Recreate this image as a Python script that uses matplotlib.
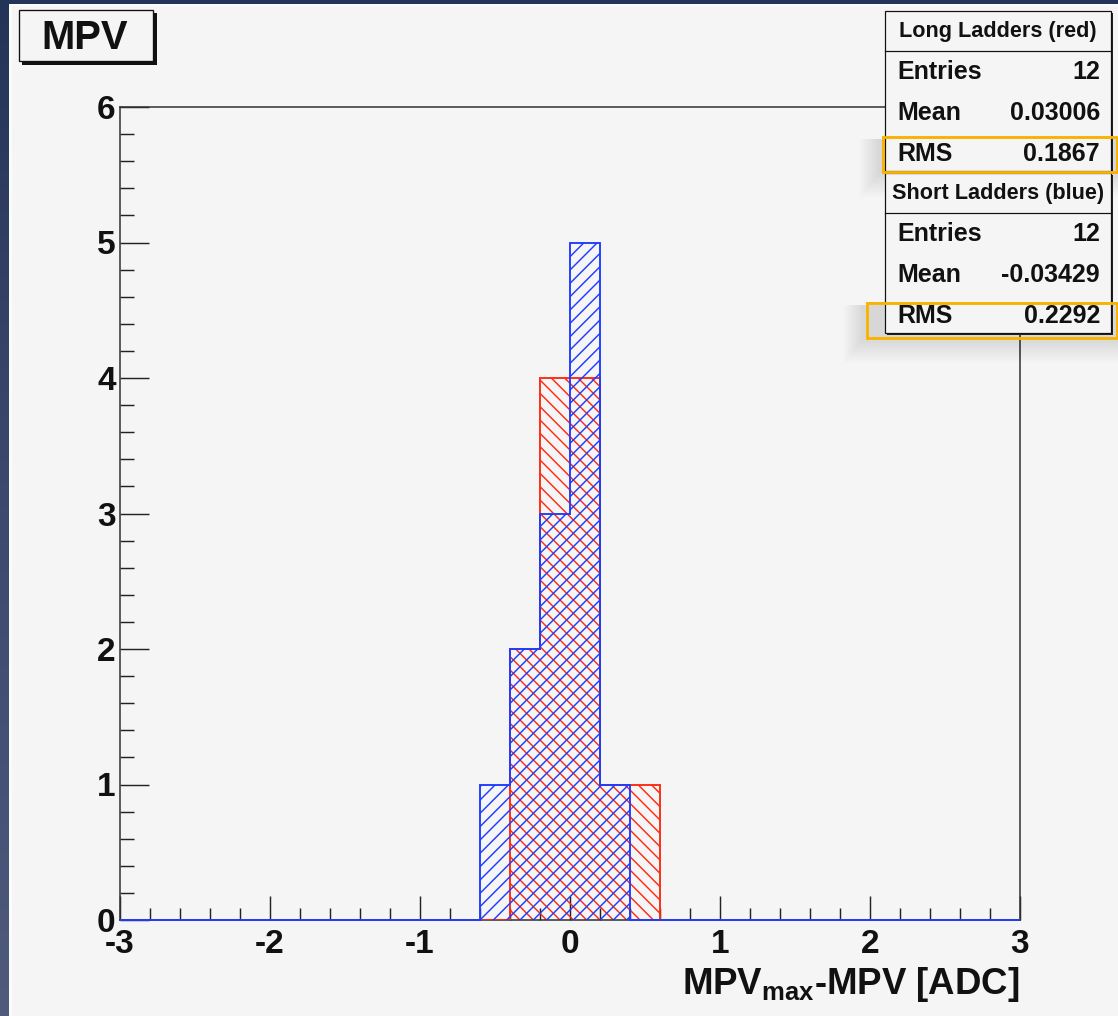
import numpy as np
import matplotlib
matplotlib.use("Agg")
import matplotlib.pyplot as plt
from matplotlib.patches import Rectangle
from matplotlib.ticker import MultipleLocator
from matplotlib.colors import LinearSegmentedColormap

W, H, DPI = 1118, 1016, 80

plt.rcParams['font.family'] = ['Liberation Sans', 'DejaVu Sans']
plt.rcParams['font.weight'] = 'bold'
plt.rcParams['axes.unicode_minus'] = False
plt.rcParams['mathtext.fontset'] = 'custom'
plt.rcParams['mathtext.rm'] = 'Liberation Sans:bold'
plt.rcParams['mathtext.bf'] = 'Liberation Sans:bold'
plt.rcParams['mathtext.it'] = 'Liberation Sans:bold'
plt.rcParams['hatch.linewidth'] = 1.3

# 30 bins of width 0.2 between -3 and 3
bin_edges = np.linspace(-3.0, 3.0, 31)
red_counts = [0, 0, 0, 0, 0, 0, 0, 0, 0, 0, 0, 0, 0, 2, 4,
              4, 1, 1, 0, 0, 0, 0, 0, 0, 0, 0, 0, 0, 0, 0]
blue_counts = [0, 0, 0, 0, 0, 0, 0, 0, 0, 0, 0, 0, 1, 2, 3,
               5, 1, 0, 0, 0, 0, 0, 0, 0, 0, 0, 0, 0, 0, 0]

long_title = "Long Ladders (red)"
long_stats = [("Entries", "12"), ("Mean", "0.03006"), ("RMS", "0.1867")]
short_title = "Short Ladders (blue)"
short_stats = [("Entries", "12"), ("Mean", "-0.03429"), ("RMS", "0.2292")]

RED = '#ff2a12'
BLUE = '#1e3cff'
ORANGE = '#f9b200'
PAPER = '#f5f5f5'
INK = '#111111'


def fx(x):
    return x / W


def fy(y):
    return 1 - y / H


def rect(x0, y0, x1, y1, **kw):
    r = Rectangle((fx(x0), fy(y1)), (x1 - x0) / W, (y1 - y0) / H,
                  transform=fig.transFigure, **kw)
    fig.add_artist(r)
    return r


fig = plt.figure(figsize=(W / DPI, H / DPI), dpi=DPI)

# navy gradient background + light canvas
bg = fig.add_axes([0, 0, 1, 1], zorder=-10)
grad = np.linspace(0, 1, 256).reshape(-1, 1)
navy = LinearSegmentedColormap.from_list('navy', ['#243458', '#3c4a6e', '#4f5a7c'])
bg.imshow(grad, aspect='auto', cmap=navy, extent=[0, 1, 0, 1])
bg.set_axis_off()
rect(9, 4, W + 5, H + 5, facecolor='#fbfbfb', edgecolor='none', zorder=-5)
rect(12, 6, W + 5, H + 5, facecolor=PAPER, edgecolor='none', zorder=-4)

ax = fig.add_axes([fx(120), fy(920), (1020 - 120) / W, (920 - 107) / H])
ax.set_facecolor(PAPER)

ax.stairs(red_counts, bin_edges, fill=True, facecolor='none', edgecolor=RED,
          hatch='\\\\', linewidth=0, zorder=2)
ax.stairs(red_counts, bin_edges, baseline=0, color=RED, linewidth=1.7, zorder=3)
ax.stairs(blue_counts, bin_edges, fill=True, facecolor='none', edgecolor=BLUE,
          hatch='//', linewidth=0, zorder=4)
ax.stairs(blue_counts, bin_edges, baseline=0, color=BLUE, linewidth=1.7, zorder=5,
          clip_on=False)

ax.set_xlim(-3, 3)
ax.set_ylim(0, 6)
ax.xaxis.set_major_locator(MultipleLocator(1))
ax.xaxis.set_minor_locator(MultipleLocator(0.2))
ax.yaxis.set_major_locator(MultipleLocator(1))
ax.yaxis.set_minor_locator(MultipleLocator(0.2))

for s in ax.spines.values():
    s.set_color('#333333')
    s.set_linewidth(1.4)

ax.tick_params(axis='both', which='both', direction='in', colors='#222222', width=1.3)
ax.tick_params(axis='y', which='major', length=26, pad=4, labelsize=30)
ax.tick_params(axis='y', which='minor', length=13)
ax.tick_params(axis='x', which='major', length=22, pad=8, labelsize=30)
ax.tick_params(axis='x', which='minor', length=11)
for lab in ax.get_xticklabels() + ax.get_yticklabels():
    lab.set_fontweight('bold')
    lab.set_color(INK)

ax.set_xlabel(r'$\mathbf{MPV_{max}}$-MPV [ADC]', loc='right', fontsize=33,
              fontweight='bold', color=INK, labelpad=5)

# title box
rect(22, 13, 157, 65, facecolor='#111111', edgecolor='none', zorder=10)
rect(19, 10, 153, 61, facecolor=PAPER, edgecolor='#111111', linewidth=1.2, zorder=11)
fig.text(fx(85), fy(38), "MPV", ha='center', va='center', fontsize=36,
         fontweight='bold', color=INK, zorder=12)

# soft shadows around the highlighted rows
for k in range(10):
    a = 0.012
    rect(878 - 2 * k, 139, 1118, 174 + 2.5 * k, facecolor='#000000', alpha=a,
         edgecolor='none', zorder=12)
    rect(862 - 2 * k, 305, 1118, 340 + 2.5 * k, facecolor='#000000', alpha=a,
         edgecolor='none', zorder=12)


def stats_box(y_top, title, rows):
    rect(887, y_top + 2, 1113, y_top + 162, facecolor='#222222', edgecolor='none', zorder=13)
    rect(885, y_top, 1111, y_top + 160, facecolor=PAPER, edgecolor='#111111',
         linewidth=1.1, zorder=14)
    line_y = fy(y_top + 40)
    fig.add_artist(plt.Line2D([fx(885), fx(1111)], [line_y, line_y],
                              transform=fig.transFigure, color='#111111', lw=1.1, zorder=15))
    fig.text(fx(998), fy(y_top + 20), title, ha='center', va='center', fontsize=19.5,
             fontweight='bold', color=INK, zorder=16)
    for i, (name, val) in enumerate(rows):
        yy = fy(y_top + 61 + 41 * i)
        fig.text(fx(897), yy, name, ha='left', va='center', fontsize=22.5,
                 fontweight='bold', color=INK, zorder=16)
        fig.text(fx(1100), yy, val, ha='right', va='center', fontsize=22.5,
                 fontweight='bold', color=INK, zorder=16)


stats_box(11, long_title, long_stats)
stats_box(173, short_title, short_stats)

# orange highlight frames
rect(883, 137, 1117, 172, facecolor='none', edgecolor=ORANGE, linewidth=2.6, zorder=20)
rect(867, 303, 1117, 338, facecolor='none', edgecolor=ORANGE, linewidth=2.6, zorder=20)

fig.savefig('out.png', dpi=DPI, facecolor='#2a3a5e')
